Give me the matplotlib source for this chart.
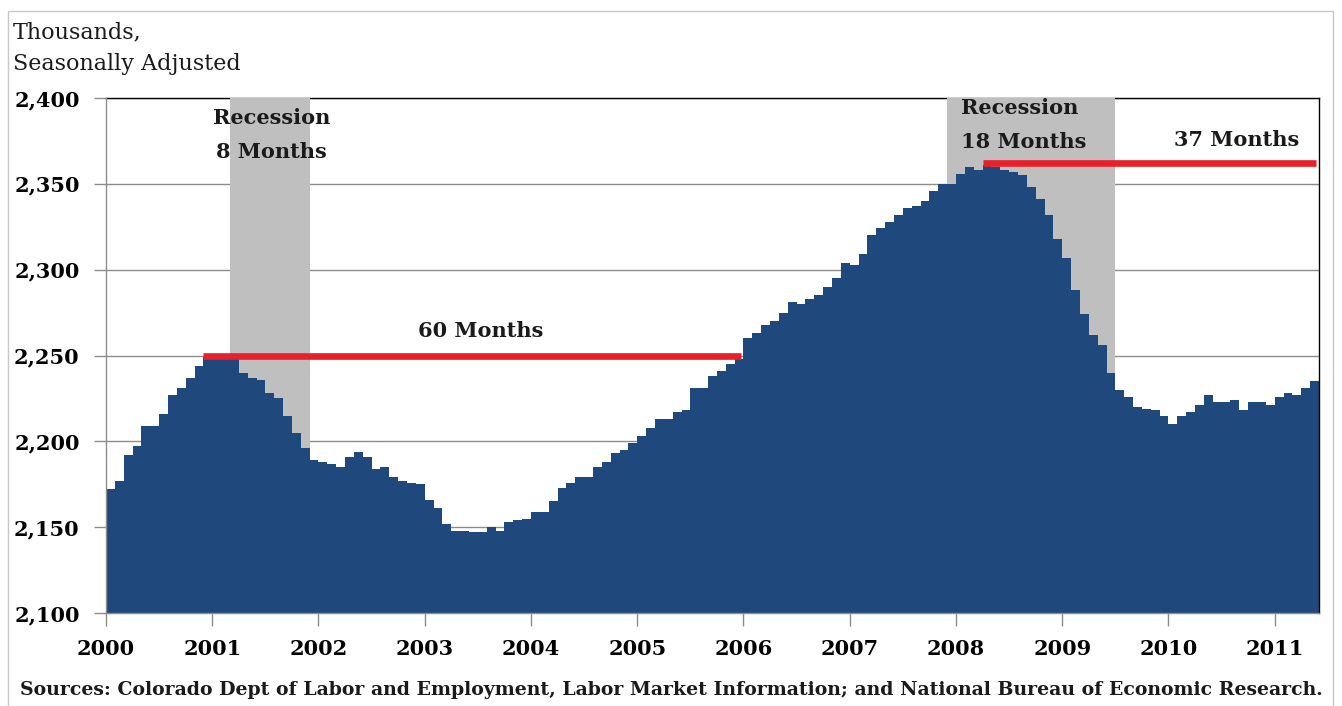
import numpy as np
import matplotlib
matplotlib.use("Agg")
import matplotlib.pyplot as plt
from matplotlib.patches import Rectangle
from matplotlib.ticker import FuncFormatter

# monthly employment, thousands, Jan 2000 .. May 2011
employment = [
    2172, 2177, 2192, 2197, 2209, 2209, 2216, 2227, 2231, 2237, 2244, 2249,
    2250, 2249, 2249, 2240, 2237, 2236, 2228, 2225, 2215, 2205, 2196, 2189,
    2188, 2187, 2185, 2191, 2194, 2191, 2184, 2185, 2179, 2177, 2176, 2175,
    2166, 2161, 2152, 2148, 2148, 2147, 2147, 2150, 2148, 2153, 2154, 2155,
    2159, 2159, 2165, 2173, 2176, 2179, 2179, 2185, 2188, 2193, 2195, 2199,
    2203, 2208, 2213, 2213, 2217, 2218, 2231, 2231, 2238, 2241, 2245, 2248,
    2260, 2263, 2268, 2270, 2275, 2281, 2280, 2283, 2285, 2290, 2295, 2304,
    2303, 2309, 2320, 2324, 2328, 2332, 2336, 2337, 2340, 2346, 2350, 2350,
    2356, 2360, 2358, 2361, 2360, 2358, 2357, 2355, 2348, 2341, 2332, 2318,
    2307, 2288, 2274, 2262, 2256, 2240, 2230, 2226, 2220, 2219, 2218, 2215,
    2210, 2215, 2217, 2221, 2227, 2223, 2223, 2224, 2218, 2223, 2223, 2221,
    2226, 2228, 2227, 2231, 2235,
]
years = [str(y) for y in range(2000, 2012)]
recessions = [("2001-03", "2001-11"), ("2007-12", "2009-06")]
recovery_spans = [("2000-12", "2005-12", 2250), ("2008-04", "2011-05", 2362)]


def month_index(s):
    y, m = s.split("-")
    return (int(y) - 2000) * 12 + int(m) - 1


BLUE = "#1f497d"
GRAY = "#bfbfbf"
RED = "#e8202a"
SERIF = "DejaVu Serif"

W, H = 1342, 706
fig = plt.figure(figsize=(W / 100, H / 100), dpi=100)
ax = fig.add_axes([106 / W, 1 - 613 / H, 1213 / W, 515 / H])

n = len(employment)
x = np.arange(n)
ax.bar(x, employment, width=1.0, align="edge", color=BLUE,
       linewidth=0, antialiased=False, zorder=2)

for a, b in recessions:
    ax.axvspan(month_index(a), month_index(b) + 1, color=GRAY, lw=0, zorder=1)

for a, b, yv in recovery_spans:
    x0 = month_index(a)
    x1 = min(month_index(b) + 0.7, n)
    ax.plot([x0, x1], [yv, yv], color=RED, lw=4.8, solid_capstyle="butt", zorder=3)

ax.set_xlim(0, n)
ax.set_ylim(2100, 2400)
ax.set_yticks(np.arange(2100, 2401, 50))
ax.yaxis.set_major_formatter(FuncFormatter(lambda v, p: f"{int(v):,}"))
ax.set_xticks(np.arange(0, n, 12))
ax.set_xticklabels(years)
ax.grid(axis="y", color="#8c8c8c", lw=1.0)
ax.set_axisbelow(True)

ax.tick_params(axis="both", direction="out", length=9, width=1, color="#8c8c8c")
ax.tick_params(axis="x", pad=10)
ax.tick_params(axis="y", pad=10)
for lbl in ax.get_xticklabels() + ax.get_yticklabels():
    lbl.set_fontfamily(SERIF)
    lbl.set_fontweight("bold")
    lbl.set_fontsize(15)

ax.spines["left"].set_color("#8c8c8c")
ax.spines["bottom"].set_color("#8c8c8c")
ax.spines["top"].set_color("black")
ax.spines["right"].set_color("black")
ax.spines["top"].set_zorder(0.9)
for s in ax.spines.values():
    s.set_linewidth(1.0)

bold = dict(fontfamily=SERIF, fontweight="bold", fontsize=15, color="#1a1a1a", zorder=4)
ax.text(18.7, 2388.5, "Recession", ha="center", va="center", **bold)
ax.text(18.7, 2368.7, "8 Months", ha="center", va="center", **bold)
ax.text(96.6, 2394.3, "Recession", ha="left", va="center", **bold)
ax.text(96.6, 2374.5, "18 Months", ha="left", va="center", **bold)
ax.text(134.8, 2375.7, "37 Months", ha="right", va="center", **bold)
ax.text(42.3, 2264.4, "60 Months", ha="center", va="center", **bold)

fig.text(13 / W, 1 - 32 / H, "Thousands,", fontfamily=SERIF, fontsize=16,
         ha="left", va="center", color="#1a1a1a")
fig.text(13 / W, 1 - 64 / H, "Seasonally Adjusted", fontfamily=SERIF, fontsize=16,
         ha="left", va="center", color="#1a1a1a")
fig.text(671 / W, 1 - 690 / H,
         "Sources: Colorado Dept of Labor and Employment, Labor Market Information; "
         "and National Bureau of Economic Research.",
         fontfamily=SERIF, fontweight="bold", fontsize=13.6, ha="center", va="center",
         color="#1a1a1a")

fig.patches.append(Rectangle((8 / W, -0.05), 1325 / W, 1.05 - 11 / H,
                             transform=fig.transFigure, fill=False,
                             edgecolor="#c8c8c8", lw=1.0))

fig.savefig("out.png", dpi=100)
